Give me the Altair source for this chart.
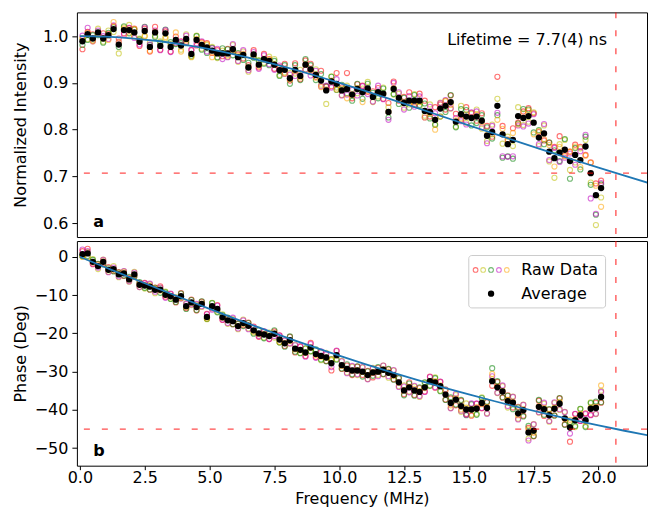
import altair as alt
import pandas as pd

# ---------------- data ----------------
freq = [0.1, 0.3, 0.5, 0.7, 0.9, 1.1, 1.3, 1.5, 1.7, 1.9,
        2.1, 2.3, 2.5, 2.7, 2.9, 3.1, 3.3, 3.5, 3.7, 3.9,
        4.1, 4.3, 4.5, 4.7, 4.9, 5.1, 5.3, 5.5, 5.7, 5.9,
        6.1, 6.3, 6.5, 6.7, 6.9, 7.1, 7.3, 7.5, 7.7, 7.9,
        8.1, 8.3, 8.5, 8.7, 8.9, 9.1, 9.3, 9.5, 9.7, 9.9,
        10.1, 10.3, 10.5, 10.7, 10.9, 11.1, 11.3, 11.5, 11.7, 11.9,
        12.1, 12.3, 12.5, 12.7, 12.9, 13.1, 13.3, 13.5, 13.7, 13.9,
        14.1, 14.3, 14.5, 14.7, 14.9, 15.1, 15.3, 15.5, 15.7, 15.9,
        16.1, 16.3, 16.5, 16.7, 16.9, 17.1, 17.3, 17.5, 17.7, 17.9,
        18.1, 18.3, 18.5, 18.7, 18.9, 19.1, 19.3, 19.5, 19.7, 19.9,
        20.1]

avg_int = [0.989, 1.004, 0.995, 1.008, 0.995, 1.002, 1.015, 0.982, 1.013, 1.013,
           1.008, 0.988, 1.011, 0.977, 1.008, 0.979, 1.006, 0.977, 0.992, 0.980,
           0.994, 0.962, 0.992, 0.981, 0.976, 0.969, 0.963, 0.963, 0.963, 0.972,
           0.955, 0.960, 0.933, 0.961, 0.939, 0.951, 0.947, 0.939, 0.927, 0.928,
           0.910, 0.928, 0.915, 0.939, 0.929, 0.917, 0.905, 0.884, 0.903, 0.898,
           0.884, 0.887, 0.875, 0.887, 0.880, 0.888, 0.870, 0.880, 0.877, 0.838,
           0.887, 0.868, 0.857, 0.862, 0.862, 0.862, 0.840, 0.838, 0.821, 0.845,
           0.851, 0.859, 0.817, 0.833, 0.828, 0.825, 0.828, 0.819, 0.787, 0.795,
           0.851, 0.790, 0.769, 0.778, 0.829, 0.825, 0.829, 0.815, 0.783, 0.792,
           0.753, 0.739, 0.751, 0.757, 0.733, 0.746, 0.735, 0.764, 0.707, 0.660,
           0.675]

avg_phase = [0.7, 0.9, -1.3, -2.4, -1.3, -3.4, -3.2, -4.6, -4.3, -5.9,
             -4.6, -7.3, -7.5, -7.8, -8.6, -8.6, -9.9, -10.3, -11.2, -10.3,
             -12.9, -11.9, -13.1, -12.3, -15.7, -12.9, -13.6, -15.8, -16.6, -16.8,
             -18.1, -17.3, -18.0, -19.2, -20.0, -20.3, -20.7, -20.1, -21.6, -22.6,
             -21.8, -24.0, -24.3, -25.0, -23.7, -25.4, -25.9, -26.3, -27.8, -25.7,
             -28.3, -29.3, -29.7, -29.7, -30.0, -30.9, -30.2, -30.0, -29.5, -30.3,
             -30.9, -32.8, -34.9, -34.1, -34.9, -35.3, -34.1, -32.5, -32.8, -33.8,
             -36.0, -38.2, -37.3, -39.0, -39.9, -39.9, -39.7, -38.2, -39.5, -32.5,
             -34.1, -35.2, -37.7, -38.1, -40.9, -40.1, -45.9, -45.4, -39.2, -39.8,
             -41.4, -39.7, -38.4, -42.2, -44.6, -42.7, -41.4, -42.7, -39.7, -39.5,
             -36.6]

# raw scans: offsets from the average, intensity in 1/1000, phase in 1/10 deg
red_dI = [-17, 5, 9, -4, 11, 3, 6, 13, -7, 4,
          8, -9, 5, -10, 12, -8, 4, -10, 7, 9,
          -6, 8, -12, 6, 9, -5, 7, -6, 10, -4,
          6, -8, 5, 9, -6, 11, 4, -9, 7, 13,
          -5, 14, -7, 9, 12, -4, 21, 8, -10, 23,
          6, 34, -8, 10, 14, -7, 12, 9, -11, 19,
          16, -6, 13, 18, -9, 15, 22, -10, 27, 9,
          -8, 14, 17, -12, 20, 11, -9, 16, 21, -10,
          62, 18, 9, 25, -14, 14, 17, 20, 12, -15,
          19, 24, 35, -12, 20, 22, 28, -18, 23, 25,
          16]
yellow_dI = [6, -10, -4, 8, -7, 10, -6, -19, 6, 11,
             -9, 7, -12, 9, -7, 10, -11, 6, -8, -9,
             10, -7, 9, -8, 5, 8, -10, 6, -7, 9,
             -10, 7, -9, -6, 10, -8, 9, 12, -10, -6,
             11, -8, 13, -10, -6, 12, -9, -29, 11, -8,
             -10, 7, 12, -9, 8, 14, -11, -9, 13, 10,
             -12, 9, -10, -8, 14, -12, -10, 16, -9, 13,
             11, -14, -10, 18, -13, 9, 15, -17, -11, 16,
             15, -20, 16, -13, 19, -15, -12, 22, -18, 17,
             -21, -42, 18, 21, -19, -16, 25, 14, -20, -64,
             -20]
green_dI = [-8, -12, 7, -6, -9, 5, 4, -5, 8, -7,
            6, 5, 9, 4, -10, 7, 8, 10, -9, 5,
            -9, -4, 8, -10, -12, 6, -8, 11, 9, -13,
            9, -11, 10, -7, 8, -10, -9, 8, -12, 10,
            -12, 10, -9, 12, 9, -11, 14, 9, 10, -13,
            12, -9, -13, 11, -14, 10, 9, -13, 11, -12,
            -11, -13, 11, -15, 12, -9, 16, -14, -11, -17,
            -13, 15, -12, 11, 14, -16, -14, 12, 18, -14,
            -20, -50, -26, -40, -16, 19, 14, -21, 16, -23,
            20, 17, -18, 23, -38, 15, -20, 21, -25, -42,
            8]
magenta_dI = [12, 14, -6, 4, 5, -8, 8, 6, -10, 5,
              -12, -6, 8, 5, 4, -9, 7, -11, -6, 8,
              7, 9, -7, 8, -9, 5, 10, -12, -8, 11,
              -8, 10, -6, 5, -9, 8, -7, -11, 10, -9,
              8, -13, 6, -11, -13, 9, -12, 10, -13, 10,
              -11, -12, 10, -14, 13, -12, -10, 14, -12, -17,
              13, 12, -14, 10, -13, 9, -14, 11, 14, 12,
              12, -13, 8, -15, -17, 12, 11, -14, -16, 13,
              -15, -47, -27, -35, -20, -18, -16, 18, -14, 20,
              -18, 22, -20, -17, 16, -21, 19, 25, -54, -40,
              11]
orange_dI = [7, 3, -6, -2, 0, -10, 15, 5, 3, -13,
             7, 3, -10, -8, 1, 0, -8, 5, 16, -13,
             -2, -6, 2, 4, 7, -14, 1, 1, -4, -3,
             3, 2, 0, -1, -3, -1, 3, 0, 5, -8,
             -2, -3, -3, 0, -2, -6, -14, 2, 2, -12,
             3, -20, -1, 2, -21, -5, 0, -1, -1, 0,
             2, -2, 0, -5, -4, -3, -14, -3, -21, -17,
             10, -6, 3, -9, 5, 1, 4, -3, 2, -5,
             -30, 12, 10, 15, -18, 10, 12, -25, 14, -12,
             14, -18, 12, -14, 20, 18, -15, -20, 22, 20,
             -40]

red_dP = [8, 12, -6, 5, -4, 7, -5, 6, -7, 4,
          -6, 5, 7, -8, 6, 9, -5, 6, -7, 8,
          -5, 7, -9, 6, 8, -6, 10, -7, 6, -8,
          7, -6, 8, 10, -9, 7, -8, 6, 11, -7,
          9, -10, 8, -9, 12, -8, 10, -9, -19, 11,
          -10, 9, -12, 10, -9, 11, -13, 10, -12, 9,
          -11, 12, -10, 13, -12, 10, -11, 12, -14, 11,
          -13, 12, -15, 14, -12, -16, 13, -14, 15, -12,
          14, -16, 15, -13, 17, -14, 12, -15, 16, -18,
          15, -17, 14, -16, -37, 16, -15, 18, -16, 14,
          -15]
yellow_dP = [-6, 4, 7, -8, 6, -5, 8, -7, 5, -6,
             7, -6, -8, 6, -9, 5, 8, -6, 7, -5,
             8, -7, 6, -8, -6, 9, -7, 8, -9, 6,
             -8, 9, -7, -6, 10, -8, 9, -10, -7, 8,
             -9, 11, -8, 10, -10, 9, -11, 12, 8, -10,
             11, -9, 10, -12, 11, -10, 12, -9, 11, -13,
             12, -10, 13, -11, 10, -13, 12, -11, 13, -12,
             14, -13, 12, -15, 16, -14, -13, 15, -14, 5,
             -15, 14, -17, 16, -14, 15, -16, 17, -15, 14,
             -17, 15, -16, 17, 15, -18, 16, -15, 17, -16,
             16]
green_dP = [-5, -7, 5, 6, -7, 4, -6, 5, -6, 7,
            -5, 7, -6, -7, 5, -8, 6, -7, -6, 7,
            -7, 6, -8, 7, -5, 8, -9, 6, 7, -8,
            6, -8, 7, -9, 8, -10, 6, 9, -8, -9,
            10, -8, -9, 11, -10, 12, -9, -10, 11, -12,
            -9, 12, -10, 11, -13, 10, -9, 12, -11, 10,
            -12, 11, -13, 10, -14, 12, 13, -12, 11, -13,
            -14, 15, -13, 16, -15, 14, -16, 13, 16, 34,
            16, -15, 14, -17, 15, -16, 17, -14, 18, -15,
            16, -18, 15, -17, 14, -15, 17, -18, 15, 17,
            -14]
magenta_dP = [12, 6, -5, -4, 5, -6, 4, -5, 6, -5,
              5, -6, 6, 8, -5, 6, -8, 7, 5, -6,
              6, -5, 8, -6, 7, -9, 8, -6, -7, 9,
              -6, 7, -9, 8, -7, 9, -8, -6, 10, 7,
              -8, 9, 10, -11, 9, -10, 12, 8, -10, 12,
              10, -11, 12, -10, 12, -11, 10, -12, 11, -9,
              13, -12, 10, -13, 12, -11, -12, 11, -13, 12,
              13, -14, 15, -12, -14, 16, 14, -13, -15, 13,
              -14, 16, -13, 15, -16, 14, -21, 16, -14, 17,
              -15, 17, -14, 16, -16, 17, -15, 16, -17, -15,
              13]
orange_dP = [-7, -10, -2, 2, 1, 0, -2, 2, 2, 0,
             -1, 0, 1, 2, 3, -2, -1, 0, 1, -4,
             -2, -1, 3, 1, -4, -2, -2, -1, 3, 1,
             1, -2, 1, -3, -2, 2, 1, 1, -6, 1,
             -2, -2, -1, -1, -1, -3, -2, -1, 10, -1,
             -2, -1, 0, 1, -1, 0, 0, -1, 1, 3,
             -2, -1, 0, 1, 4, 2, -2, 0, 3, 2,
             10, -6, 3, -9, 5, 1, 4, -3, 2, 19,
             2, 1, 3, 2, -5, 2, 8, -6, 1, 3,
             4, 3, 5, -2, 20, 2, 4, -4, 3, 2,
             30]

series_names = ["red", "yellow", "green", "magenta", "orange"]
series_colors = ["#ff0000", "#bfbf00", "#008000", "#bf00bf", "#ffa500"]
dev_int = [red_dI, yellow_dI, green_dI, magenta_dI, orange_dI]
dev_phase = [red_dP, yellow_dP, green_dP, magenta_dP, orange_dP]

# fitted curve (lifetime 7.7 ns)
fit_freq = [0, 1, 2, 3, 4, 5, 6, 7, 8, 9, 10, 11, 12, 13, 14, 15, 16, 17, 18, 19, 20, 21, 22]
fit_int = [1.0, 0.9988, 0.9954, 0.9896, 0.9818, 0.9720, 0.9604, 0.9471, 0.9326, 0.9169,
           0.9002, 0.8828, 0.8648, 0.8465, 0.8279, 0.8093, 0.7908, 0.7723, 0.7541, 0.7362,
           0.7187, 0.7015, 0.6847]
fit_phase = [0.0, -2.77, -5.53, -8.26, -10.95, -13.60, -16.19, -18.71, -21.16, -23.53,
             -25.82, -28.02, -30.14, -32.17, -34.11, -35.97, -37.74, -39.44, -41.05, -42.59,
             -44.06, -45.45, -46.79]

half_int = 0.7071
half_phase = -45.0
corner_freq = 20.67

for lst in dev_int + dev_phase + [avg_int, avg_phase]:
    assert len(lst) == len(freq)

# ---------------- tables ----------------
raw_rows = []
for name, di, dp in zip(series_names, dev_int, dev_phase):
    for f, a_i, a_p, d1, d2 in zip(freq, avg_int, avg_phase, di, dp):
        raw_rows.append({"freq": f, "series": name,
                         "intensity": a_i + d1 / 1000.0, "phase": a_p + d2 / 10.0})
raw_df = pd.DataFrame(raw_rows)
avg_df = pd.DataFrame({"freq": freq, "intensity": avg_int, "phase": avg_phase})
fit_df = pd.DataFrame({"freq": fit_freq, "intensity": fit_int, "phase": fit_phase})

# ---------------- styling ----------------
W, H = 571, 225
FONT = "DejaVu Sans"
xscale = alt.Scale(domain=[-0.115, 21.87], nice=False, zero=False)
yscale_top = alt.Scale(domain=[0.5704, 1.0508], nice=False, zero=False)
yscale_bot = alt.Scale(domain=[-54.58, 4.14], nice=False, zero=False)
cscale = alt.Scale(domain=series_names, range=series_colors)

xaxis_bot = alt.Axis(values=[0, 2.5, 5, 7.5, 10, 12.5, 15, 17.5, 20], format=".1f",
                     labelPadding=0, tickSize=4,
                     title="Frequency (MHz)", titleY=37.5, titleBaseline="alphabetic")
yaxis_top = alt.Axis(values=[0.6, 0.7, 0.8, 0.9, 1.0], format=".1f",
                     title="Normalized Intensity", titleX=-48, titleY=H / 2,
                     titleAngle=270, titleAlign="center", titleBaseline="bottom")
yaxis_bot = alt.Axis(values=[-50, -40, -30, -20, -10, 0], format="d",
                     title="Phase (Deg)", titleX=-48, titleY=H / 2,
                     titleAngle=270, titleAlign="center", titleBaseline="bottom")

dash = dict(color="#ff0000", strokeDash=[6, 12], strokeWidth=1.3, opacity=0.7)


def panel(field, yscale, yaxis, xaxis, hline_val):
    x = alt.X("freq:Q", scale=xscale, axis=xaxis)
    y = alt.Y(f"{field}:Q", scale=yscale, axis=yaxis)
    raw = alt.Chart(raw_df).mark_point(shape="circle", filled=False, size=26,
                                       strokeWidth=1.1, opacity=0.55).encode(
        x=x, y=y, color=alt.Color("series:N", scale=cscale, legend=None))
    avg = alt.Chart(avg_df).mark_circle(size=40, color="black", opacity=1).encode(
        x=alt.X("freq:Q"), y=alt.Y(f"{field}:Q"))
    fit = alt.Chart(fit_df).mark_line(color="#1f77b4", strokeWidth=1.8, clip=True,
                                      interpolate="monotone").encode(
        x=alt.X("freq:Q"), y=alt.Y(f"{field}:Q"))
    hline = alt.Chart(pd.DataFrame({"v": [hline_val]})).mark_rule(**dash).encode(
        y=alt.Y("v:Q"))
    vline = alt.Chart(pd.DataFrame({"f": [corner_freq]})).mark_rule(**dash).encode(
        x=alt.X("f:Q"))
    return [raw, avg, fit, hline, vline]


one = pd.DataFrame({"k": [0]})

top_layers = panel("intensity", yscale_top, yaxis_top, None, half_int)
top_layers.append(alt.Chart(one).mark_text(text="Lifetime = 7.7(4) ns", font=FONT, fontSize=16,
                                           align="right", baseline="alphabetic", color="black").encode(
    x=alt.value(531), y=alt.value(33)))
top_layers.append(alt.Chart(one).mark_text(text="a", font=FONT, fontSize=16, fontWeight="bold",
                                           align="left", baseline="alphabetic", color="black").encode(
    x=alt.value(16.5), y=alt.value(215)))
top = alt.layer(*top_layers).properties(width=W, height=H)

bot_layers = panel("phase", yscale_bot, yaxis_bot, xaxis_bot, half_phase)
bot_layers.append(alt.Chart(one).mark_text(text="b", font=FONT, fontSize=16, fontWeight="bold",
                                           align="left", baseline="alphabetic", color="black").encode(
    x=alt.value(16.5), y=alt.value(215)))
# legend box
bot_layers.append(alt.Chart(one).mark_rect(fill="white", fillOpacity=0.8, stroke="#cccccc",
                                           strokeWidth=1, cornerRadius=3).encode(
    x=alt.value(392.5), x2=alt.value(529.5), y=alt.value(14.5), y2=alt.value(67)))
legend_x = [399.3, 406.9, 414.8, 422.7, 430.6]
for c, lx in zip(series_colors, legend_x):
    bot_layers.append(alt.Chart(one).mark_point(shape="circle", filled=False, size=22,
                                                strokeWidth=1.1, opacity=0.55, color=c).encode(
        x=alt.value(lx), y=alt.value(29)))
bot_layers.append(alt.Chart(one).mark_circle(size=40, color="black", opacity=1).encode(
    x=alt.value(414.8), y=alt.value(52.7)))
bot_layers.append(alt.Chart(one).mark_text(text="Raw Data", font=FONT, fontSize=16, align="left",
                                           baseline="alphabetic", color="black").encode(
    x=alt.value(445), y=alt.value(34)))
bot_layers.append(alt.Chart(one).mark_text(text="Average", font=FONT, fontSize=16, align="left",
                                           baseline="alphabetic", color="black").encode(
    x=alt.value(445), y=alt.value(58)))
bot = alt.layer(*bot_layers).properties(width=W, height=H)

chart = alt.vconcat(top, bot, spacing=0).properties(
    padding={"left": 4, "top": 2, "right": 0, "bottom": 0}
).configure_view(stroke="black", strokeWidth=1).configure_axis(
    domain=False, grid=False, ticks=True, tickColor="black", tickSize=5, tickWidth=1,
    labelColor="black", labelFont=FONT, labelFontSize=16, labelPadding=4,
    titleColor="black", titleFont=FONT, titleFontSize=16, titleFontWeight="normal"
)

chart.save("out.html", embed_options={"renderer": "svg", "actions": False})
